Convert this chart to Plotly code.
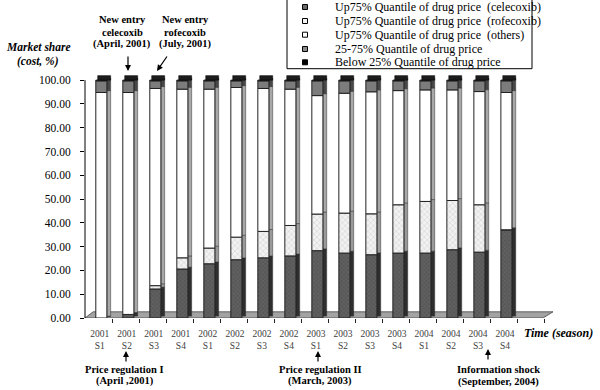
import plotly.graph_objects as go

# ---------------- data ----------------
seasons = ["2001<br>S1", "2001<br>S2", "2001<br>S3", "2001<br>S4",
           "2002<br>S1", "2002<br>S2", "2002<br>S3", "2002<br>S4",
           "2003<br>S1", "2003<br>S2", "2003<br>S3", "2003<br>S4",
           "2004<br>S1", "2004<br>S2", "2004<br>S3", "2004<br>S4"]
celecoxib = [0.0, 1.5, 12.2, 20.6, 22.8, 24.5, 25.3, 26.1, 28.3, 27.3, 26.6, 27.3, 27.3, 28.7, 27.7, 37.1]
rofecoxib = [0.0, 0.0, 1.4, 4.7, 6.6, 9.5, 11.1, 12.8, 15.4, 16.8, 17.2, 20.3, 21.7, 20.7, 19.9, 0.0]
others = [94.8, 93.3, 82.9, 70.9, 66.8, 62.9, 60.1, 57.3, 49.8, 50.4, 51.3, 48.0, 46.9, 46.5, 47.6, 57.7]
mid_q = [4.9, 4.9, 3.2, 3.5, 3.5, 2.8, 3.2, 3.5, 6.2, 5.2, 4.6, 4.1, 3.8, 3.8, 4.5, 4.9]
below25 = [0.3, 0.3, 0.3, 0.3, 0.3, 0.3, 0.3, 0.3, 0.3, 0.3, 0.3, 0.3, 0.3, 0.3, 0.3, 0.3]
y_ticks = [0, 10, 20, 30, 40, 50, 60, 70, 80, 90, 100]
legend_names = ["Up75% Quantile of drug price  (celecoxib)",
                "Up75% Quantile of drug price  (rofecoxib)",
                "Up75% Quantile of drug price  (others)",
                "25-75% Quantile of drug price",
                "Below 25% Quantile of drug price"]

# ---------------- layout geometry ----------------
Y_MAX = 103
L, W = 85, 468
B = 318                      # pixel row of value 0
H = round(2.38 * Y_MAX)      # 2.38 px per percentage point
T = B - H
FONT = "Liberation Serif, Times New Roman, serif"


def fx(px):
    return (px - L) / W


def fy(py):
    return (B - py) / H


xs = list(range(len(seasons)))
series = [
    (celecoxib, dict(color="#5e5e5e", pattern=dict(shape="x", fgcolor="#7c7c7c", bgcolor="#585858", size=3, solidity=0.3)), "#2e2e2e"),
    (rofecoxib, dict(color="#eeeeee", pattern=dict(shape="x", fgcolor="#a8a8a8", bgcolor="#f2f2f2", size=4, solidity=0.25)), "#9a9a9a"),
    (others, dict(color="#ffffff"), "#a8a8a8"),
    (mid_q, dict(color="#7c7c7c"), "#474747"),
    (below25, dict(color="#000000"), "#111111"),
]

fig = go.Figure()

# side faces first (3-D look)
base = [0.0] * len(xs)
for vals, mk, side_col in series:
    fig.add_trace(go.Bar(
        x=xs, y=vals, base=[b + 0.8 for b in base], offset=0.21, width=0.14,
        marker=dict(color=side_col, line=dict(color="#333333", width=0.5)),
        showlegend=False, hoverinfo="skip"))
    base = [b + v for b, v in zip(base, vals)]

# front faces
base = [0.0] * len(xs)
for (vals, mk, side_col), name in zip(series, legend_names):
    fig.add_trace(go.Bar(
        x=xs, y=vals, base=list(base), offset=-0.2, width=0.41, name=name,
        marker=dict(line=dict(color="#222222", width=1), **mk),
        showlegend=False))
    base = [b + v for b, v in zip(base, vals)]

# top face of each column
fig.add_trace(go.Bar(
    x=xs, y=[1.9] * len(xs), base=base, offset=-0.13, width=0.48,
    marker=dict(color="#1c1c1c", line=dict(color="#000000", width=0.5)),
    showlegend=False, hoverinfo="skip"))

# floor
fig.add_shape(type="path", xref="x", yref="y", layer="below",
              path="M -0.6,0 L 16.36,0 L 16.73,2.6 L -0.3,2.6 Z",
              fillcolor="#a3a3a3", line=dict(color="#444444", width=0.8))
# value axis line (0 to 100 only)
fig.add_shape(type="line", xref="paper", yref="y", x0=0, x1=0, y0=0, y1=100,
              line=dict(color="black", width=1))

fig.update_layout(
    width=600, height=390,
    margin=dict(l=L, r=600 - L - W, t=T, b=390 - B),
    paper_bgcolor="white", plot_bgcolor="white",
    barmode="overlay", showlegend=False,
    font=dict(family=FONT, size=12, color="black"),
    xaxis=dict(range=[-0.6, 16.73], tickvals=[x - 0.05 for x in xs], ticktext=seasons,
               ticks="", showline=False, showgrid=False, zeroline=False,
               ticklabelstandoff=8,
               tickfont=dict(family=FONT, size=9.5, color="#404040"),
               minor=dict(tickmode="array", tickvals=[x + 0.4 for x in range(17)],
                          ticks="outside", ticklen=4, tickcolor="#222222", showgrid=False)),
    yaxis=dict(range=[0, Y_MAX], tickvals=y_ticks, tickformat=".2f",
               ticks="outside", ticklen=4, tickcolor="black", ticklabelstandoff=7,
               showline=False, showgrid=False, zeroline=False,
               tickfont=dict(family=FONT, size=11.5, color="black")),
)

ann = []


def txt(text, px, py, size=10.5, anchor="center", **kw):
    ann.append(dict(text=text, x=fx(px), y=fy(py), xref="paper", yref="paper",
                    showarrow=False, xanchor=anchor, yanchor="middle",
                    font=dict(family=FONT, size=size, color="black"), **kw))


def arrow(hx, hy, ax, ay):
    ann.append(dict(text="", x=fx(hx), y=fy(hy), xref="paper", yref="paper",
                    showarrow=True, ax=ax, ay=ay, arrowhead=2, arrowsize=1,
                    arrowwidth=1.2, arrowcolor="black"))


# axis titles
txt("<b><i>Market share</i></b>", 38, 47, size=11.5)
txt("<b><i>(cost, %)</i></b>", 38, 62, size=11.5)
txt("<b><i>Time (season)</i></b>", 558, 333, size=12)

# top events
txt("<b>New entry</b>", 122, 19)
txt("<b>celecoxib</b>", 122, 32)
txt("<b>(April, 2001)</b>", 122, 44)
arrow(128, 71, 0, -16)
txt("<b>New entry</b>", 185, 19)
txt("<b>rofecoxib</b>", 185, 32)
txt("<b>(July, 2001)</b>", 185, 44)
arrow(157, 71, 11, -16)

# bottom events
arrow(126, 351, 0, 12)
txt("<b>Price regulation I</b>", 124, 369)
txt("<b>(April ,2001)</b>", 125, 381)
arrow(318, 351, 0, 12)
txt("<b>Price regulation II</b>", 320, 369)
txt("<b>(March, 2003)</b>", 320, 381)
arrow(488, 349, 0, 12)
txt("<b>Information shock</b>", 498, 370)
txt("<b>(September, 2004)</b>", 498, 382)

# custom legend
fig.add_shape(type="rect", xref="paper", yref="paper",
              x0=fx(287), x1=fx(532), y0=fy(68.7), y1=fy(-1),
              line=dict(color="black", width=1), fillcolor="white")
sw_fill = ["#6a6a6a", "#f4f4f4", "#ffffff", "#8a8a8a", "#000000"]
leg_y = [7, 21, 34.7, 49, 62.3]
for name, col, yy in zip(legend_names, sw_fill, leg_y):
    fig.add_shape(type="rect", xref="paper", yref="paper",
                  x0=fx(302.5), x1=fx(307.5), y0=fy(yy + 2.5), y1=fy(yy - 2.5),
                  line=dict(color="black", width=1), fillcolor=col)
    txt(name.replace("  ", "&nbsp; "), 333, yy, size=12, anchor="left")

fig.update_layout(annotations=ann)
fig.write_html("out.html", config={"displayModeBar": False},
               post_script="document.body.style.margin='0';document.body.style.overflow='hidden';")
